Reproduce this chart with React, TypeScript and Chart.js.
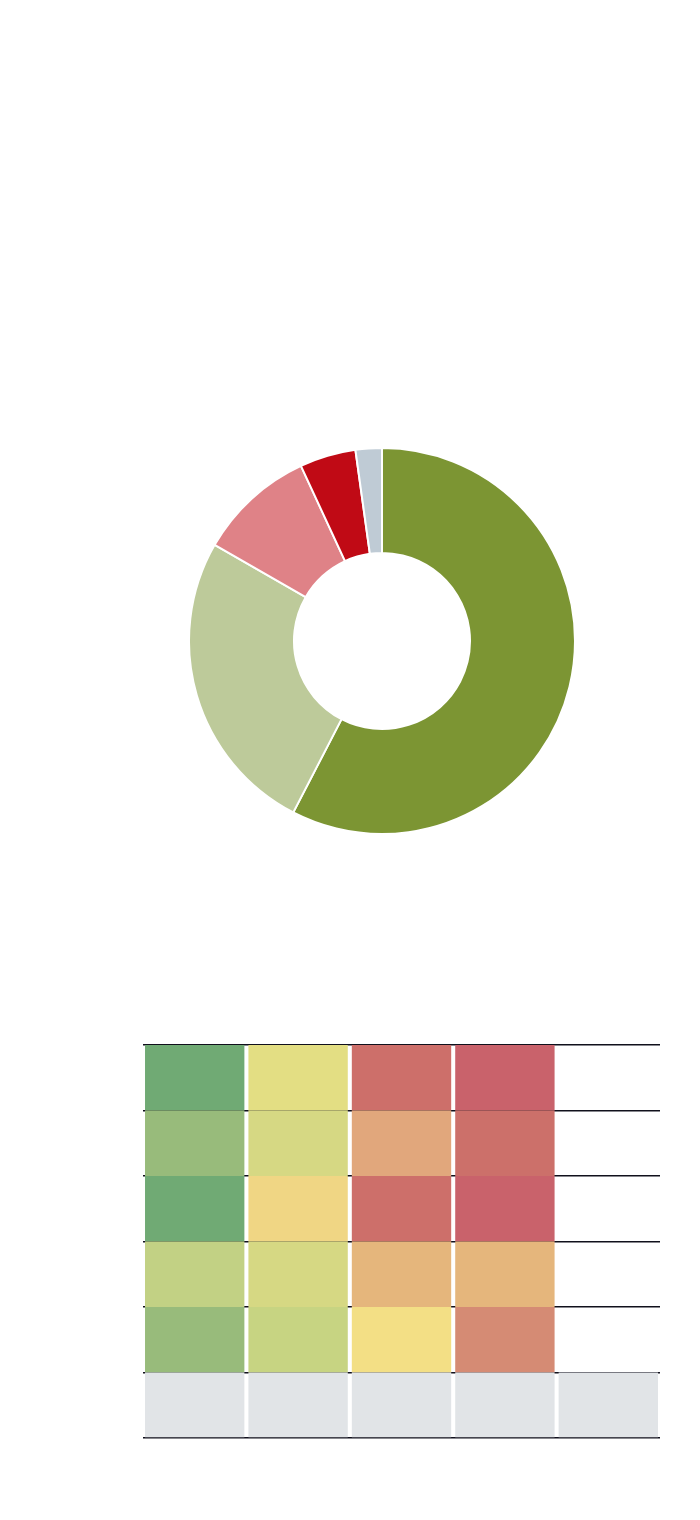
import React, { useEffect, useRef } from "react";
import { Chart, registerables } from "chart.js";

Chart.register(...registerables);

// Doughnut data (share, %)
const segmentLabels = ["A", "B", "C", "D", "E"];
const segmentValues = [57.6, 25.7, 9.8, 4.7, 2.2];
const segmentColors = ["#7C9533", "#BDCA9A", "#DF8287", "#C00A15", "#BFCBD5"];

// Heat table
const columnLabels = ["C1", "C2", "C3", "C4", "C5"];
const rowLabels = ["R1", "R2", "R3", "R4", "R5", "R6"];
const row1Colors = ["#70AA74", "#E3DE83", "#CD6F6A", "#C9626B", "rgba(0,0,0,0)"];
const row2Colors = ["#98BB7B", "#D6D883", "#E1A77C", "#CC706A", "rgba(0,0,0,0)"];
const row3Colors = ["#70AA74", "#F0D684", "#CD6F6A", "#C9626B", "rgba(0,0,0,0)"];
const row4Colors = ["#C2D184", "#D6D883", "#E5B67C", "#E5B67C", "rgba(0,0,0,0)"];
const row5Colors = ["#98BB7B", "#C7D482", "#F3DF85", "#D58B74", "rgba(0,0,0,0)"];
const row6Colors = ["#E1E4E7", "#E1E4E7", "#E1E4E7", "#E1E4E7", "#E1E4E7"];
const rowColors = [row1Colors, row2Colors, row3Colors, row4Colors, row5Colors, row6Colors];
const cellValue = [1, 1, 1, 1, 1];

export default function App() {
  const donutRef = useRef<HTMLCanvasElement | null>(null);
  const tableRef = useRef<HTMLCanvasElement | null>(null);

  useEffect(() => {
    const donut = new Chart(donutRef.current as HTMLCanvasElement, {
      type: "doughnut",
      data: {
        labels: segmentLabels,
        datasets: [
          {
            data: segmentValues,
            backgroundColor: segmentColors,
            borderColor: "#ffffff",
            borderWidth: 2,
          },
        ],
      },
      options: {
        responsive: false,
        animation: false,
        cutout: "45.6%",
        layout: { padding: 0 },
        plugins: { legend: { display: false }, tooltip: { enabled: false } },
      },
    });

    // stacked from bottom: last row first
    const datasets = rowLabels
      .map((label, i) => ({
        label,
        data: cellValue,
        backgroundColor: rowColors[i],
        borderWidth: 0,
        barPercentage: 0.961,
        categoryPercentage: 1,
      }))
      .reverse();

    const table = new Chart(tableRef.current as HTMLCanvasElement, {
      type: "bar",
      data: { labels: columnLabels, datasets },
      options: {
        responsive: false,
        animation: false,
        layout: { padding: 4 },
        plugins: { legend: { display: false }, tooltip: { enabled: false } },
        scales: {
          x: { display: false, stacked: true },
          y: {
            stacked: true,
            min: 0,
            max: 6,
            z: 1,
            ticks: { display: false, stepSize: 1 },
            border: { display: false },
            grid: { color: "#10101c", lineWidth: 1.5, drawTicks: false },
          },
        },
      },
    });

    return () => {
      donut.destroy();
      table.destroy();
    };
  }, []);

  return (
    <div style={{ position: "relative", width: 684, height: 1500 }}>
      <canvas
        ref={donutRef}
        width={388}
        height={388}
        style={{ position: "absolute", left: 180, top: 439, width: 388, height: 388 }}
      />
      <canvas
        ref={tableRef}
        width={525}
        height={401}
        style={{ position: "absolute", left: 131, top: 1033, width: 525, height: 401 }}
      />
    </div>
  );
}
